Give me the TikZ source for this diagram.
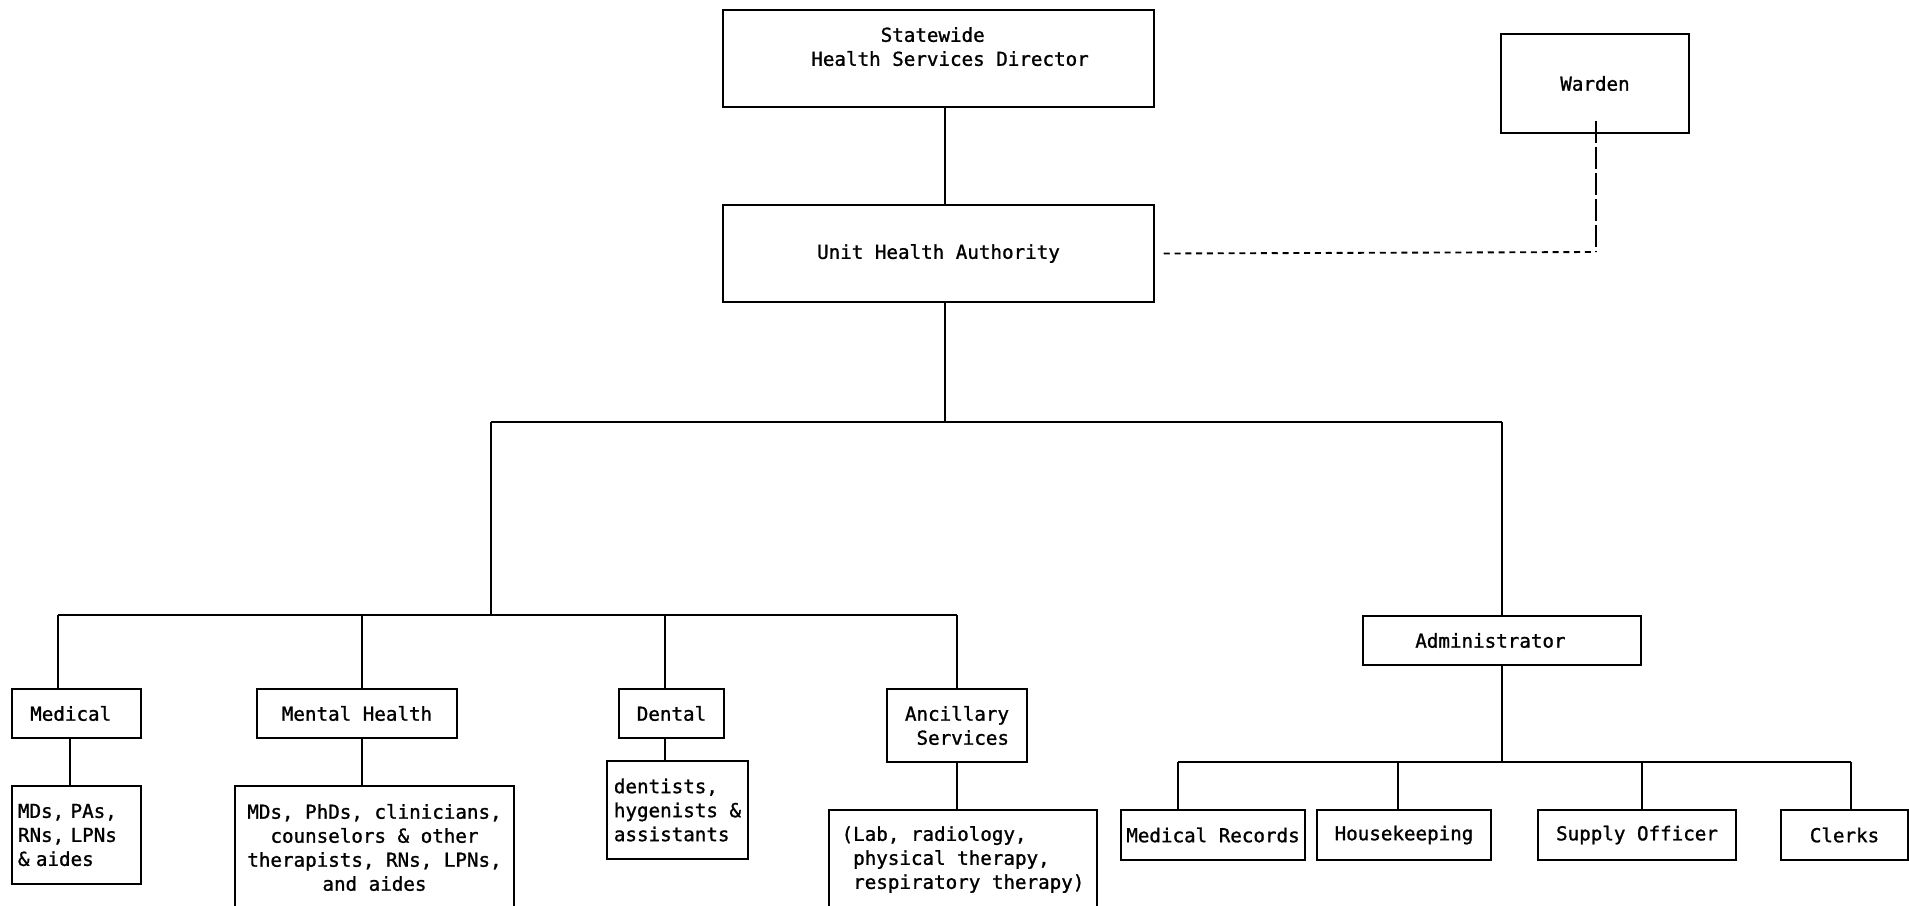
\documentclass[tikz,border=0pt]{standalone}
\usepackage{fontspec}
\setmonofont[UprightFeatures={FakeBold=1.2}]{DejaVu Sans Mono}
\begin{document}
\begin{tikzpicture}[x=0.75pt,y=-0.75pt,
  every node/.style={font=\ttfamily\fontsize{14.4pt}{18pt}\selectfont},
  box/.style={draw, line width=1.1pt, inner sep=0pt, align=center},
  wide/.style={box, minimum height=36.75pt},
  link/.style={line width=1.1pt},
  dotlink/.style={line width=1.4pt, dash pattern=on 4.5pt off 3.6pt},
  dashlink/.style={line width=1.1pt, dash pattern=on 17pt off 2.5pt},
]
\useasboundingbox (0,0) rectangle (1909,906);

% top of the hierarchy
\node[box, minimum width=323.25pt, minimum height=72.75pt] (sd) at (938.5,58.5)
  {Statewide\hphantom{x}\\\hphantom{xx}Health Services Director\\~};
\node[box, minimum width=323.25pt, minimum height=72.75pt] (uha) at (938.5,253.5)
  {Unit Health Authority};
\node[box, minimum width=141pt, minimum height=74.25pt] (w) at (1595,83.5) {Warden};

% clinical services
\node[wide, minimum width=96.75pt] (med) at (76.5,713.5) {Medical\hphantom{x}};
\node[box, minimum width=96.75pt, minimum height=73.5pt, text width=87.75pt, align=left]
  (medst) at (76.5,835) {MDs, PAs,\\RNs, LPNs\\\& aides};
\node[wide, minimum width=150pt] (mh) at (357,713.5) {Mental Health};
\node[box, minimum width=209.25pt, minimum height=92.25pt] (mhst) at (374.5,847.5)
  {MDs, PhDs, clinicians,\\counselors \& other\\therapists, RNs, LPNs,\\and aides};
\node[wide, minimum width=78.75pt] (den) at (671.5,713.5) {Dental};
\node[box, minimum width=105.75pt, minimum height=73.5pt, align=left] (denst) at (677.5,810)
  {dentists,\\hygenists \&\\assistants};
\node[box, minimum width=105pt, minimum height=54.75pt, align=left] (anc) at (957,725.5)
  {Ancillary\\\hphantom{x}Services};
\node[box, minimum width=201pt, minimum height=74.25pt, align=left] (ancst) at (963,859.5)
  {(Lab, radiology,\\\hphantom{x}physical therapy,\\\hphantom{x}respiratory therapy)};

% administration
\node[wide, minimum width=208.5pt] (adm) at (1502,640.5) {Administrator\hphantom{xx}};
\node[box, minimum width=138pt, minimum height=37.5pt] (mr) at (1213,835) {Medical Records};
\node[box, minimum width=130.5pt, minimum height=37.5pt] (hk) at (1404,835) {Housekeeping};
\node[box, minimum width=148.5pt, minimum height=37.5pt] (so) at (1637,835) {Supply Officer};
\node[box, minimum width=95.25pt, minimum height=37.5pt] (cl) at (1844.5,835) {Clerks};

% junction points of the connector tree
\coordinate (t) at (945,422);
\coordinate (bl) at (491,422);
\coordinate (br) at (1502,422);
\coordinate (cb) at (491,615);
\coordinate (cm) at (58,615);
\coordinate (cmh) at (362,615);
\coordinate (cd) at (665,615);
\coordinate (ca) at (957,615);
\coordinate (mx) at (70,760);
\coordinate (ab) at (1502,762);
\coordinate (amr) at (1178,762);
\coordinate (ahk) at (1398,762);
\coordinate (aso) at (1642,762);
\coordinate (acl) at (1851,762);
\coordinate (wc) at (1596,252);

% solid lines of authority
\draw[link] (sd.south -| t) -- (uha.north -| t);
\draw[link] (uha.south -| t) -- (t);
\draw[link] (bl) -- (br);
\draw[link] (bl) -- (cb);
\draw[link] (cm) -- (ca);
\draw[link] (cm) -- (cm |- med.north);
\draw[link] (cmh) -- (cmh |- mh.north);
\draw[link] (cd) -- (cd |- den.north);
\draw[link] (ca) -- (ca |- anc.north);
\draw[link] (med.south -| mx) -- (medst.north -| mx);
\draw[link] (mh.south -| cmh) -- (mhst.north -| cmh);
\draw[link] (den.south -| cd) -- (denst.north -| cd);
\draw[link] (anc.south -| ca) -- (ancst.north -| ca);
\draw[link] (br) -- (adm.north);
\draw[link] (adm.south) -- (ab);
\draw[link] (amr) -- (acl);
\draw[link] (amr) -- (amr |- mr.north);
\draw[link] (ahk) -- (ahk |- hk.north);
\draw[link] (aso) -- (aso |- so.north);
\draw[link] (acl) -- (acl |- cl.north);

% coordination with the warden
\draw[dotlink] ([xshift=6.75pt]uha.east) -- (wc);
\draw[dashlink] ([yshift=9.75pt]w.south -| wc) -- (wc);
\end{tikzpicture}
\end{document}
